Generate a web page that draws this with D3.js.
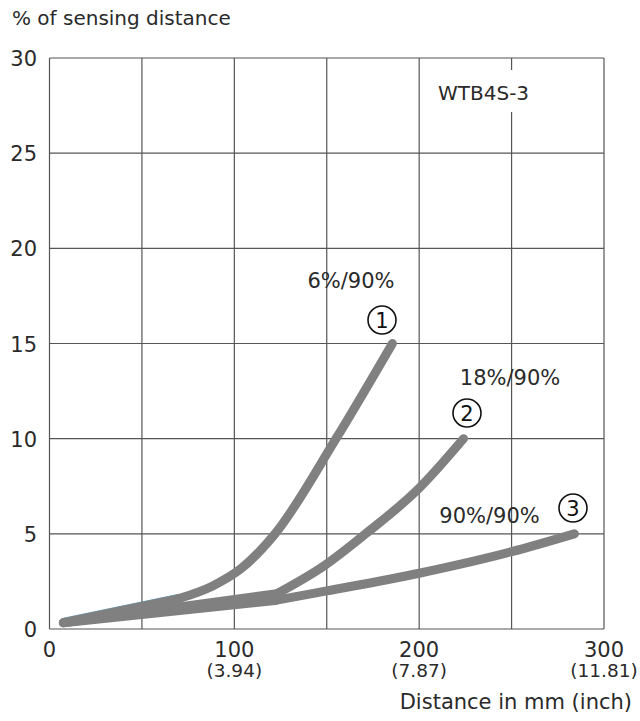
<!DOCTYPE html>
<html><head><meta charset="utf-8">
<script src="https://cdn.jsdelivr.net/npm/d3@7"></script>
<style>body{margin:0;background:#fff}text{font-family:"DejaVu Sans",sans-serif;fill:#2a2a2a}</style>
</head><body><svg id="c" width="640" height="721"></svg>
<script>
const xTicks = [0, 100, 200, 300];
const xTickInch = ["", "(3.94)", "(7.87)", "(11.81)"];
const yTicks = [0, 5, 10, 15, 20, 25, 30];
const gridX = [0, 50, 100, 150, 200, 250, 300];
const seriesNames = ["6%/90%", "18%/90%", "90%/90%"];
const seriesMarks = ["1", "2", "3"];
// straight start segment, then smooth part
const s1Start = [[7.5,0.33],[70,1.6]];
const s1Curve = [[70,1.6],[88,2.25],[104,3.2],[122,5.0],[155,10],[185.5,15]];
const s2Start = [[7.5,0.33],[123,1.85]];
const s2Curve = [[123,1.85],[149,3.35],[171,5.0],[200,7.4],[224,10]];
const s3Start = [[7.5,0.33],[122,1.5]];
const s3Curve = [[122,1.5],[150,2.0],[200,2.93],[250,4.06],[284,5.0]];
const model = "WTB4S-3";

const svg = d3.select("#c");
const x = d3.scaleLinear().domain([0,300]).range([49.5,604]);
const y = d3.scaleLinear().domain([0,30]).range([629,58]);
const gc = "#555";

svg.append("g").selectAll("line").data(gridX).join("line")
  .attr("x1",d=>x(d)).attr("x2",d=>x(d)).attr("y1",y(30)).attr("y2",y(0))
  .attr("stroke",gc).attr("stroke-width",1.2);
svg.append("g").selectAll("line").data(yTicks).join("line")
  .attr("x1",x(0)).attr("x2",x(300)).attr("y1",d=>y(d)).attr("y2",d=>y(d))
  .attr("stroke",gc).attr("stroke-width",1.2);

svg.append("rect").attr("x",436).attr("y",70).attr("width",102).attr("height",42).attr("fill","#fff");
svg.append("text").attr("x",438).attr("y",100).attr("font-size",20).text(model);

svg.append("g").selectAll("text").data(yTicks).join("text")
  .attr("x",37).attr("y",d=>y(d)+8).attr("text-anchor","end").attr("font-size",21).text(d=>d);
svg.append("g").selectAll("text").data(xTicks).join("text")
  .attr("x",d=>x(d)).attr("y",657).attr("text-anchor","middle").attr("font-size",21).text(d=>d);
svg.append("g").selectAll("text").data(xTicks).join("text")
  .attr("x",d=>x(d)).attr("y",677).attr("text-anchor","middle").attr("font-size",18.5).text((d,i)=>xTickInch[i]);

svg.append("text").attr("x",632).attr("y",709).attr("text-anchor","end").attr("font-size",21).text("Distance in mm (inch)");
svg.append("text").attr("x",12).attr("y",25).attr("font-size",20).text("% of sensing distance");

const lin = d3.line().x(d=>x(d[0])).y(d=>y(d[1]));
const smooth = d3.line().x(d=>x(d[0])).y(d=>y(d[1])).curve(d3.curveMonotoneX);
svg.append("path").attr("d",lin(s1Start)).attr("fill","none").attr("stroke","#3f9fc4")
  .attr("stroke-width",1.2).attr("transform","translate(0,-4.3)").attr("opacity",0.8);
[[s3Start,s3Curve],[s2Start,s2Curve],[s1Start,s1Curve]].forEach(([a,b])=>{
  [lin(a), smooth(b)].forEach(d=>{
    svg.append("path").attr("d",d).attr("fill","none").attr("stroke","#808080")
     .attr("stroke-width",9).attr("stroke-linecap","round").attr("stroke-linejoin","round");
  });
});

const labPos = [[351,288],[510,385],[489.5,523]];
const markPos = [[382,320],[467,413],[573,508]];
svg.append("g").selectAll("text").data(seriesNames).join("text")
  .attr("x",(d,i)=>labPos[i][0]).attr("y",(d,i)=>labPos[i][1]).attr("text-anchor","middle")
  .attr("font-size",21).text(d=>d);
const mg = svg.append("g").selectAll("g").data(seriesMarks).join("g")
  .attr("transform",(d,i)=>`translate(${markPos[i][0]},${markPos[i][1]})`);
mg.append("circle").attr("r",14).attr("fill","#fff").attr("stroke","#111").attr("stroke-width",1.6);
mg.append("text").attr("y",7.5).attr("text-anchor","middle").attr("font-size",21).style("fill","#111").text(d=>d);
</script></body></html>
